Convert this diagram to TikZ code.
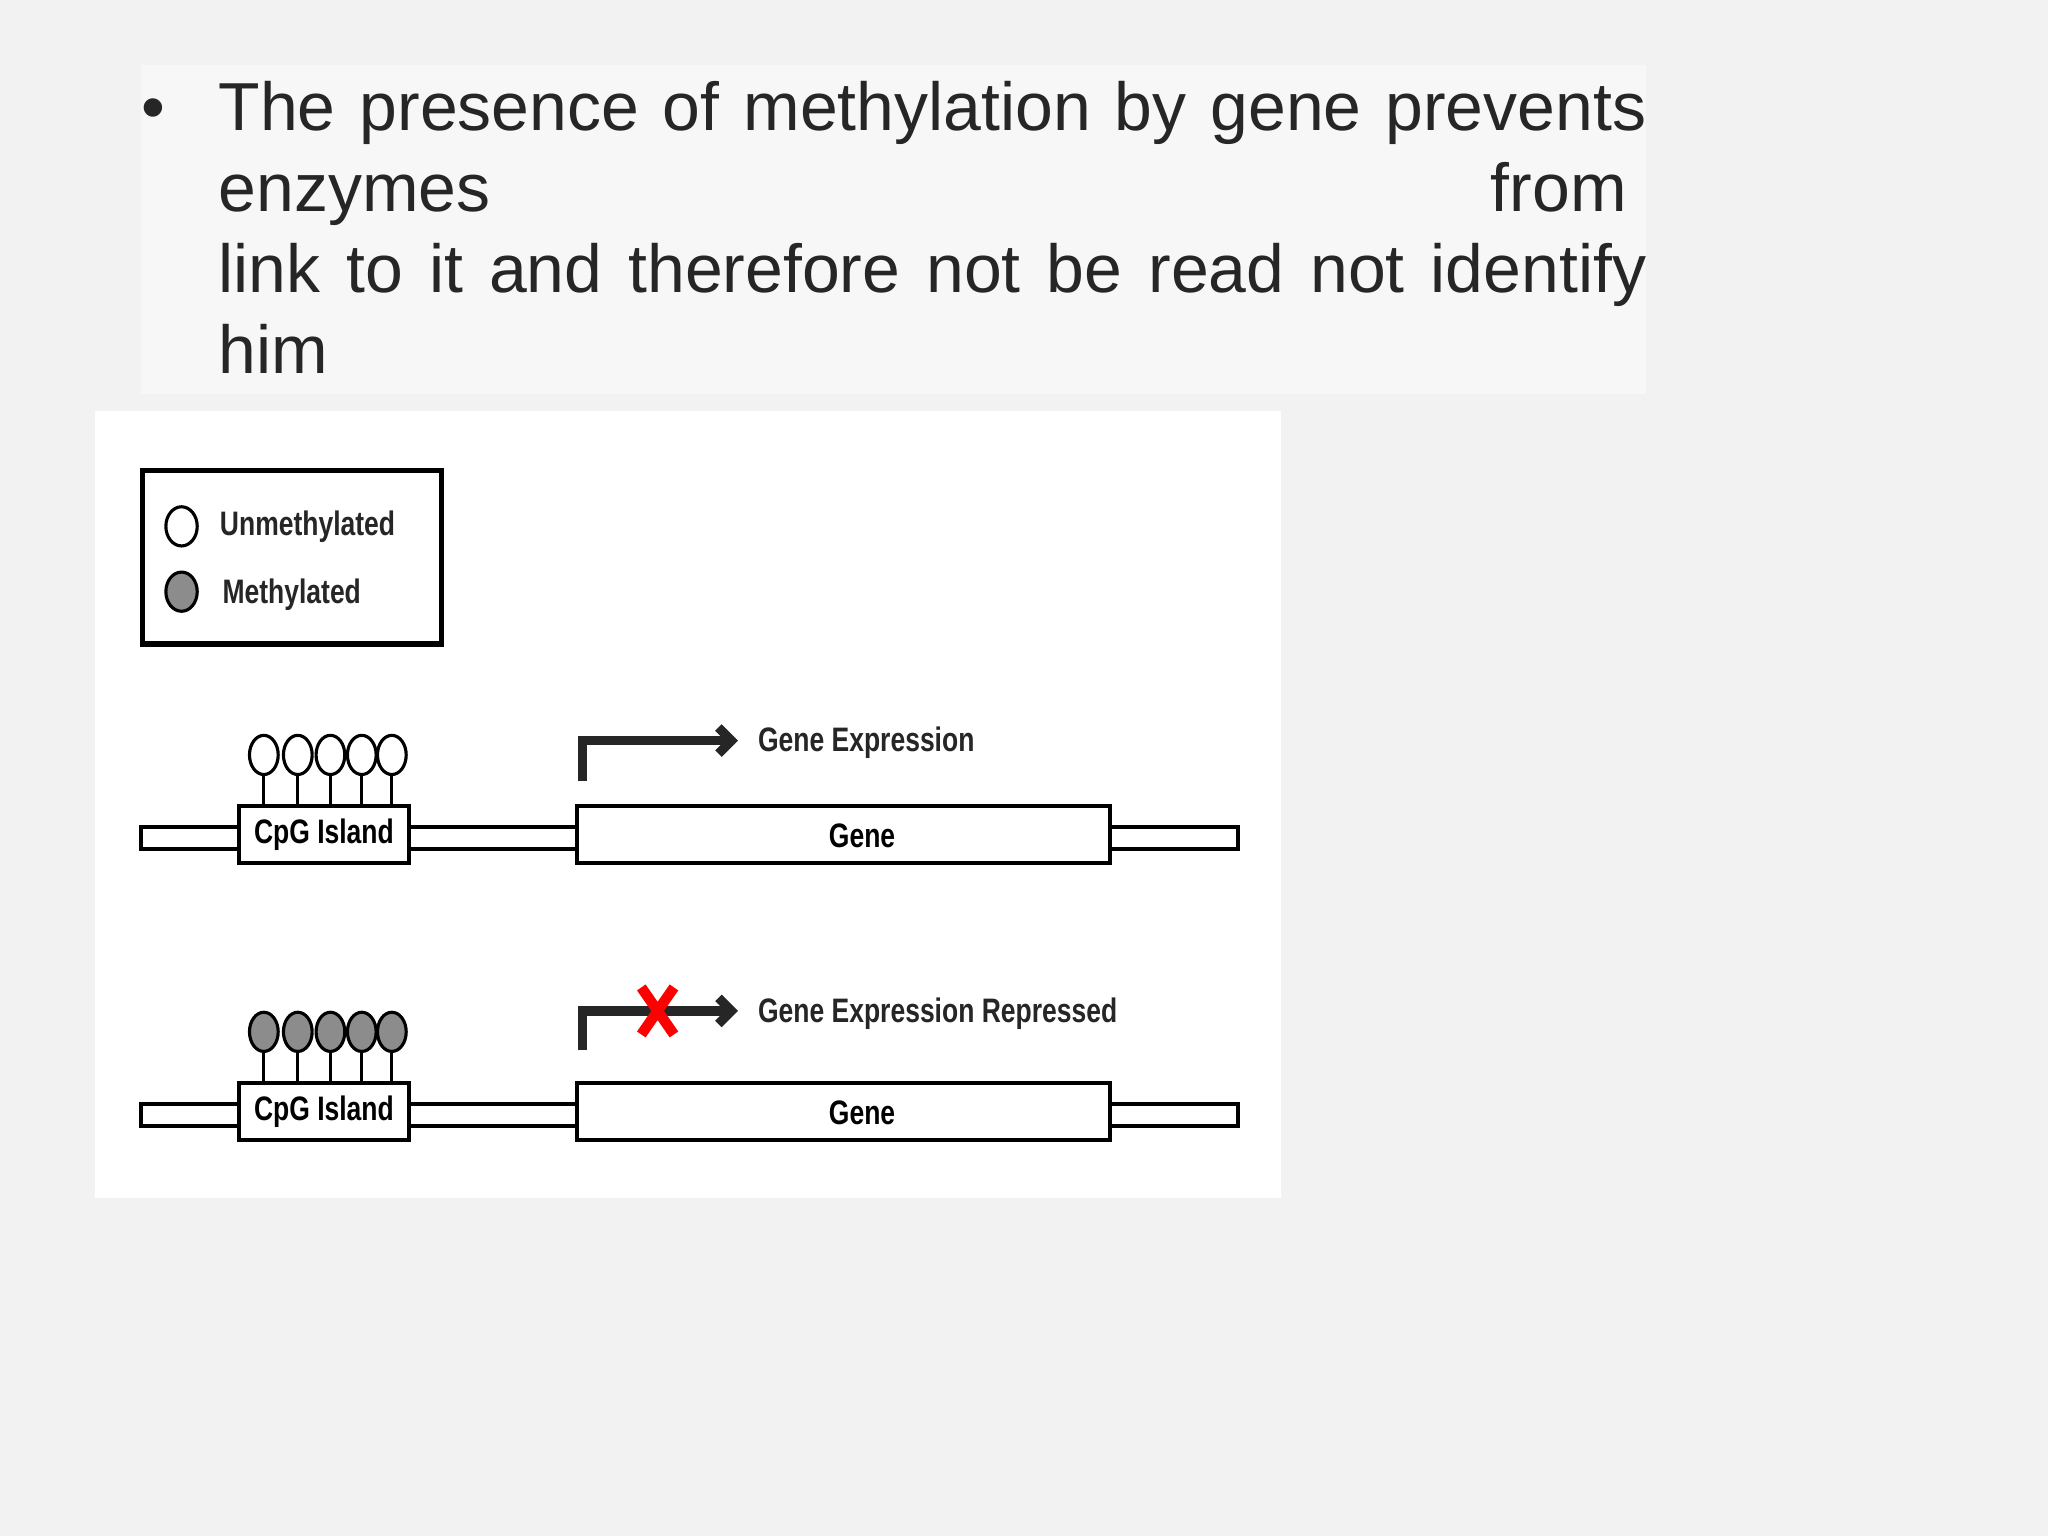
\documentclass[tikz,border=0pt]{standalone}
\usetikzlibrary{arrows.meta}
\usepackage{fontspec}
\setmainfont{Liberation Sans}
\newcommand\lbl[1]{\scalebox{0.78}[1]{\fontsize{13}{15}\selectfont\bfseries #1}}
\begin{document}
\begin{tikzpicture}[x=0.5pt,y=-0.5pt,
  bar/.style={draw=black,fill=white,line width=1.5pt},
  boxx/.style={draw=black,fill=white,line width=1.6pt},
  lolly/.style={draw=black,line width=1.2pt},
  arr/.style={draw=black!85,line width=3.5pt},
  lab/.style={anchor=west,inner sep=0pt,text=black!85}]
\fill[black!5] (0,0) rectangle (1568,1176);
\useasboundingbox (0,0) rectangle (1568,1176);
\fill[black!3] (108,50) rectangle (1260,302);
\node[anchor=base west,inner sep=0pt,font=\fontsize{26}{31}\selectfont,text=black!85] (bul) at (108,100) {•};
\node[anchor=north west,inner sep=0pt,font=\fontsize{26}{31}\selectfont,text=black!85,align=left] (txt) at (167,62) {%
\makebox[546.5pt][s]{The presence of methylation by gene prevents}\\
\makebox[539pt][s]{enzymes\hfill from}\\
\makebox[546.5pt][s]{link to it and therefore not be read not identify}\\
him};
\fill[white] (73,315) rectangle (981,917);
% legend
\draw[line width=2pt] (109,360) rectangle (338,493);
\draw[lolly,fill=white] (139,403) ellipse (12 and 15);
\draw[lolly,fill=black!45] (139,453) ellipse (12 and 15);
\node[lab] (lu) at (168,403) {\lbl{Unmethylated}};
\node[lab] (lm) at (170,455) {\lbl{Methylated}};
\foreach \dy/\fc/\r in {0/white/a,212/black!45/b}{
  \begin{scope}[yshift=-\dy*0.5pt]
  \draw[bar] (108,633) rectangle (948,650);
  \foreach \cx in {202,228,253,277,300}{
    \draw[lolly] (\cx,593) -- (\cx,617);
    \draw[lolly,fill=\fc] (\cx,578) ellipse (11 and 15);
  }
  \node[boxx,minimum width=65pt,minimum height=22pt,inner sep=0pt] (cpg\r) at (248,639) {\lbl{CpG Island}};
  \node[boxx,minimum width=204pt,minimum height=22pt,inner sep=0pt] (gene\r) at (646,639) {};
  \node[inner sep=0pt] (gl\r) at (660,640) {\lbl{Gene}};
  \end{scope}
}
\coordinate (sa) at (446,598);
\coordinate (ka) at (446,567);
\coordinate (ea) at (565,567);
\draw[arr,-{Straight Barb[length=5pt,width=10pt]}] (sa) -- (ka) -- (ea);
\coordinate (sb) at (446,804);
\coordinate (kb) at (446,774);
\coordinate (eb) at (565,774);
\draw[arr,-{Straight Barb[length=5pt,width=10pt]}] (sb) -- (kb) -- (eb);
\node[lab] (ge) at (580,569) {\lbl{Gene Expression}};
\node[lab] (gr) at (580,776) {\lbl{Gene Expression Repressed}};
\draw[red,line width=4pt] (491,756) -- (516,792) (516,756) -- (491,792);
\end{tikzpicture}
\end{document}
